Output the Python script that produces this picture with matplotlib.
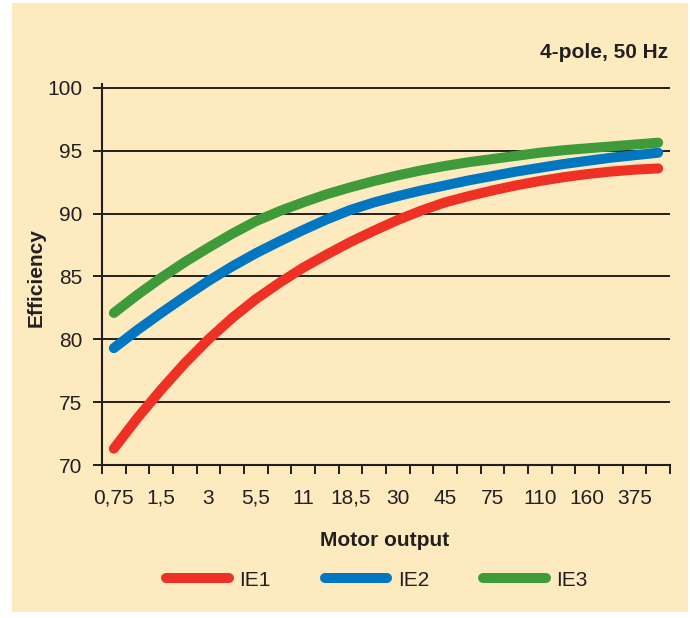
import matplotlib.pyplot as plt
from matplotlib.patches import Rectangle

# motor output classes (kW), one per column of the chart
outputs = ["0,75", "1,1", "1,5", "2,2", "3", "4", "5,5", "7,5", "11", "15",
           "18,5", "22", "30", "37", "45", "55", "75", "90", "110", "132",
           "160", "200", "375", "1000"]

ie1 = [71.3, 73.75, 76.0, 78.1, 80.0, 81.7, 83.2, 84.5, 85.7, 86.75,
       87.75, 88.65, 89.5, 90.25, 90.9, 91.4, 91.85, 92.25, 92.6, 92.9,
       93.15, 93.35, 93.5, 93.6]
ie2 = [79.3, 80.75, 82.1, 83.4, 84.65, 85.8, 86.85, 87.8, 88.7, 89.55,
       90.3, 90.9, 91.4, 91.85, 92.25, 92.65, 93.0, 93.35, 93.65, 93.95,
       94.2, 94.45, 94.65, 94.85]
ie3 = [82.1, 83.55, 84.9, 86.15, 87.3, 88.4, 89.4, 90.2, 90.9, 91.55,
       92.1, 92.6, 93.05, 93.45, 93.8, 94.1, 94.35, 94.6, 94.85, 95.05,
       95.2, 95.35, 95.5, 95.65]

series = [("IE1", ie1, "#EE3124"), ("IE2", ie2, "#0077C0"), ("IE3", ie3, "#3F9A3A")]
y_ticks = [70, 75, 80, 85, 90, 95, 100]

BG = "#FDEABF"
INK = "#231F20"

plt.rcParams["font.family"] = ["Liberation Sans", "DejaVu Sans"]

fig = plt.figure(figsize=(6.9, 6.18), dpi=100, facecolor="white")
# yellow card behind the chart
fig.patches.append(Rectangle((12 / 690, 6 / 618), 676 / 690, 609 / 618,
                             transform=fig.transFigure, facecolor=BG,
                             edgecolor="none", zorder=-10))

ax = fig.add_axes([102 / 690, 1 - 465 / 618, 568 / 690, (465 - 83.6) / 618])
ax.patch.set_alpha(0)

xs = [i + 0.5 for i in range(len(outputs))]
for name, vals, col in series:
    ax.plot(xs, vals, color=col, lw=7.2, solid_capstyle="round",
            solid_joinstyle="round", label=name, zorder=3)

ax.set_xlim(0, len(outputs))
ax.set_ylim(70, 100.35)

for y in y_ticks[1:]:
    ax.axhline(y, color=INK, lw=1.4, zorder=1)

ax.set_yticks(y_ticks)
ax.tick_params(axis="y", direction="out", length=6.5, width=1.4, color=INK,
               labelsize=15, labelcolor=INK, pad=7.5)

# labels every other class, tick marks on the class borders
ax.set_xticks(xs[::2])
ax.set_xticklabels(outputs[::2])
ax.set_xticks(range(len(outputs) + 1), minor=True)
ax.tick_params(axis="x", which="major", length=0, labelsize=15,
               labelcolor=INK, pad=17)
ax.tick_params(axis="x", which="minor", direction="out", length=6.5,
               width=1.4, color=INK)

for s in ["top", "right"]:
    ax.spines[s].set_visible(False)
for s in ["left", "bottom"]:
    ax.spines[s].set_color(INK)
    ax.spines[s].set_linewidth(1.5)

fig.text(36 / 690, 1 - 278 / 618, "Efficiency", rotation=90, ha="center",
         va="center", fontsize=15, fontweight="bold", color=INK)
fig.text(385 / 690, 1 - 541 / 618, "Motor output", ha="center", va="center",
         fontsize=15, fontweight="bold", color=INK)
fig.text(668 / 690, 1 - 52 / 618, "4-pole, 50 Hz", ha="right", va="center",
         fontsize=15, fontweight="bold", color=INK)

fig.legend(loc="center", bbox_to_anchor=(377 / 690, 1 - 580 / 618), ncol=3,
           frameon=False, fontsize=15, handlelength=3.0, handletextpad=0.5,
           columnspacing=2.6, labelcolor=INK)

fig.savefig("out.png", dpi=100, facecolor="white")
